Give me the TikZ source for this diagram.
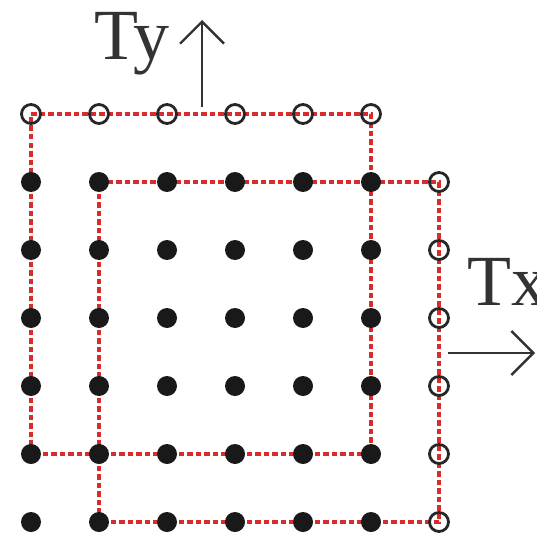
\documentclass[tikz,border=0pt]{standalone}
\usepackage{fontspec}
\setmainfont{Liberation Serif}
\usetikzlibrary{arrows.meta}
\definecolor{gridred}{RGB}{214,44,44}
\tikzset{
  filleddot/.style={circle,fill=black!90,inner sep=0pt,minimum size=20pt},
  opendot/.style={circle,draw=black!85,line width=2.8pt,inner sep=0pt,minimum size=19pt},
  redpath/.style={draw=gridred,line width=3.6pt,dash pattern=on 5.5pt off 3pt},
  shiftarrow/.style={draw=black!80,line width=2pt,
    -{Straight Barb[length=22pt,width=44pt,line width=2.4pt]}},
  axislabel/.style={font=\fontsize{72}{72}\selectfont,text=black!80,inner sep=0pt}
}
\begin{document}
\begin{tikzpicture}[x=1pt,y=-1pt]
\useasboundingbox (0,0) rectangle (536,540);
% grid positions
\foreach \r in {1,...,7}{
  \foreach \c in {1,...,7}{
    \coordinate (p\r\c) at ({31+68*(\c-1)},{114+68*(\r-1)});
  }
}
% shifted domain outlines
\draw[redpath] (p11) -- (p16) -- (p66) -- (p61) -- cycle;
\draw[redpath] (p22) -- (p27) -- (p77) -- (p72) -- cycle;
% interior points
\foreach \r in {2,...,7}{
  \foreach \c in {1,...,6}{
    \node[filleddot] (d\r\c) at (p\r\c) {};
  }
}
% boundary points
\foreach \c in {1,...,6}{ \node[opendot] (o1\c) at (p1\c) {}; }
\foreach \r in {2,...,7}{ \node[opendot] (o\r7) at (p\r7) {}; }
% translation arrows and labels
\coordinate (tyfoot) at (202,107);
\coordinate (tyhead) at (202,20);
\draw[shiftarrow] (tyfoot) -- (tyhead);
\node[axislabel,anchor=base west] (ty) at (94,60) {Ty};
\coordinate (txfoot) at (448,353);
\coordinate (txhead) at (535,353);
\draw[shiftarrow] (txfoot) -- (txhead);
\node[axislabel,anchor=base west] (tx) at (467,305) {Tx};
\end{tikzpicture}
\end{document}
